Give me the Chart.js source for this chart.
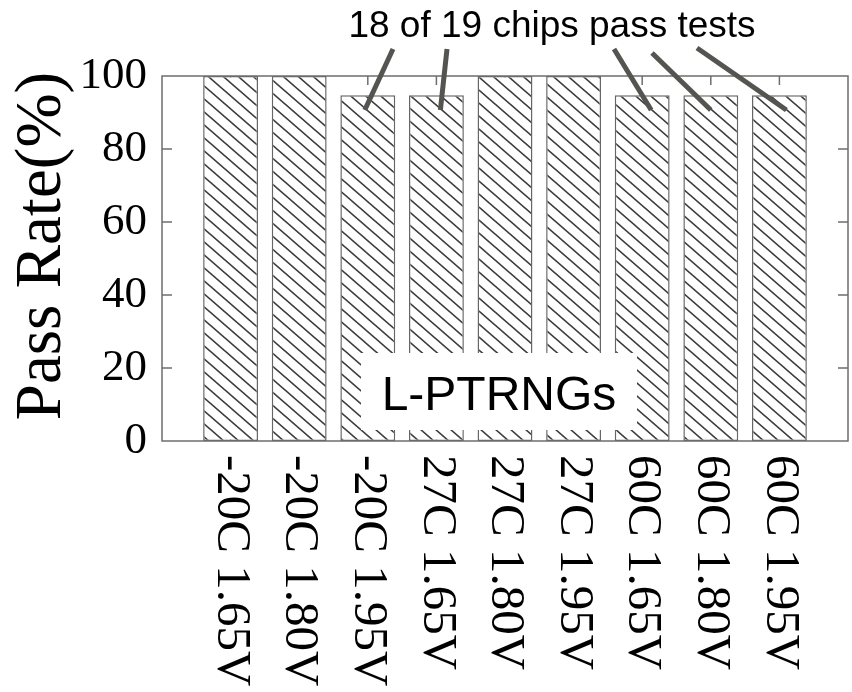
<!DOCTYPE html>
<html>
<head>
<meta charset="utf-8">
<script src="https://cdn.jsdelivr.net/npm/chart.js@4"></script>
<style>
  html, body { margin: 0; padding: 0; background: #fff; }
  #wrap { width: 852px; height: 692px; }
</style>
</head>
<body>
<div id="wrap"><canvas id="myChart" width="852" height="692"></canvas></div>
<script>
const categories = ['-20C 1.65V', '-20C 1.80V', '-20C 1.95V', '27C 1.65V', '27C 1.80V',
                    '27C 1.95V', '60C 1.65V', '60C 1.80V', '60C 1.95V'];
const passRate = [100, 100, 94.7, 94.7, 100, 100, 94.7, 94.7, 94.7];
const yTicks = [0, 20, 40, 60, 80, 100];
const calloutText = '18 of 19 chips pass tests';
const calloutBars = [2, 3, 6, 7, 8];
const boxText = 'L-PTRNGs';

// empty slots at both ends so the bars sit one step in from the frame
const labels = [''].concat(categories, ['']);
const values = [null].concat(passRate, [null]);

const frameColor = '#6e6e6e';

function makeHatch() {
    const w = 15, h = 13;
    const c = document.createElement('canvas');
    c.width = w; c.height = h;
    const g = c.getContext('2d');
    g.fillStyle = '#fff';
    g.fillRect(0, 0, w, h);
    g.strokeStyle = '#3c3c3c';
    g.lineWidth = 1.6;
    for (const dx of [-w, 0, w]) {
        g.beginPath();
        g.moveTo(dx - w, -h);
        g.lineTo(dx + 2 * w, 2 * h);
        g.stroke();
    }
    return g.createPattern(c, 'repeat');
}

// leader line starts (px) and small shifts of the end from the bar centre
const leaderStart = [[393, 49], [447, 49], [614, 49], [652, 53], [697, 48]];
const leaderShift = [-3, 4, 9, 0, 7];

const decor = {
    id: 'decor',
    beforeDatasetsDraw(chart) {
        const ctx = chart.ctx;
        const a = chart.chartArea;
        const xs = chart.scales.x, ys = chart.scales.y;
        ctx.save();
        ctx.strokeStyle = frameColor;
        ctx.lineWidth = 1.5;
        ctx.beginPath();
        yTicks.slice(1, -1).forEach(v => {
            const y = ys.getPixelForValue(v);
            ctx.moveTo(a.left, y); ctx.lineTo(a.left + 10, y);
            ctx.moveTo(a.right, y); ctx.lineTo(a.right - 10, y);
        });
        categories.forEach((c, i) => {
            const x = xs.getPixelForValue(i + 1);
            ctx.moveTo(x, a.top); ctx.lineTo(x, a.top + 9);
            ctx.moveTo(x, a.bottom); ctx.lineTo(x, a.bottom - 9);
        });
        ctx.stroke();
        ctx.restore();
    },
    afterDatasetsDraw(chart) {
        const ctx = chart.ctx;
        const a = chart.chartArea;
        const xs = chart.scales.x, ys = chart.scales.y;
        ctx.save();

        ctx.strokeStyle = frameColor;
        ctx.lineWidth = 1.5;
        ctx.strokeRect(a.left, a.top, a.right - a.left, a.bottom - a.top);

        // x labels, turned clockwise and reading downwards
        ctx.fillStyle = '#000';
        ctx.font = '49px "Liberation Serif"';
        ctx.textAlign = 'left';
        ctx.textBaseline = 'middle';
        categories.forEach((c, i) => {
            ctx.save();
            ctx.translate(xs.getPixelForValue(i + 1), a.bottom + 14);
            ctx.rotate(Math.PI / 2);
            ctx.fillText(c, 0, 0);
            ctx.restore();
        });

        // y title
        ctx.save();
        ctx.font = '65px "Liberation Serif"';
        ctx.textAlign = 'center';
        ctx.translate(43, 246);
        ctx.rotate(-Math.PI / 2);
        ctx.fillText('Pass Rate(%)', 0, 0);
        ctx.restore();

        // callout
        ctx.textBaseline = 'alphabetic';
        ctx.textAlign = 'center';
        ctx.font = '37px "Liberation Sans"';
        ctx.fillText(calloutText, 552, 37);
        ctx.strokeStyle = '#545450';
        ctx.lineWidth = 5;
        calloutBars.forEach((b, k) => {
            ctx.beginPath();
            ctx.moveTo(leaderStart[k][0], leaderStart[k][1]);
            ctx.lineTo(xs.getPixelForValue(b + 1) + leaderShift[k], ys.getPixelForValue(90.7));
            ctx.stroke();
        });

        // label box
        ctx.fillStyle = '#fff';
        ctx.fillRect(361, 353, 276, 77);
        ctx.fillStyle = '#000';
        ctx.font = '48px "Liberation Sans"';
        ctx.fillText(boxText, 499, 410);

        ctx.restore();
    }
};

const ctx = document.getElementById('myChart').getContext('2d');
const passChart = new Chart(ctx, {
    type: 'bar',
    data: {
        labels: labels,
        datasets: [{
            label: 'Pass Rate',
            data: values,
            backgroundColor: makeHatch(),
            borderColor: '#666',
            borderWidth: 1.5,
            borderSkipped: false,
            barPercentage: 0.8,
            categoryPercentage: 1
        }]
    },
    options: {
        responsive: false,
        animation: false,
        layout: { padding: { top: 76, right: 4, left: 0, bottom: 0 } },
        plugins: {
            legend: { display: false },
            tooltip: { enabled: false }
        },
        scales: {
            x: {
                offset: false,
                grid: { display: false },
                border: { display: false },
                ticks: { display: false },
                afterFit(scale) { scale.height = 251; }
            },
            y: {
                min: 0,
                max: 100,
                grid: { display: false, drawTicks: false },
                border: { display: false },
                afterBuildTicks(scale) { scale.ticks = yTicks.map(v => ({ value: v })); },
                ticks: {
                    color: '#000',
                    padding: 15,
                    font: { family: '"Liberation Serif"', size: 45 }
                },
                afterFit(scale) { scale.width = 162; }
            }
        }
    },
    plugins: [decor]
});
</script>
</body>
</html>
